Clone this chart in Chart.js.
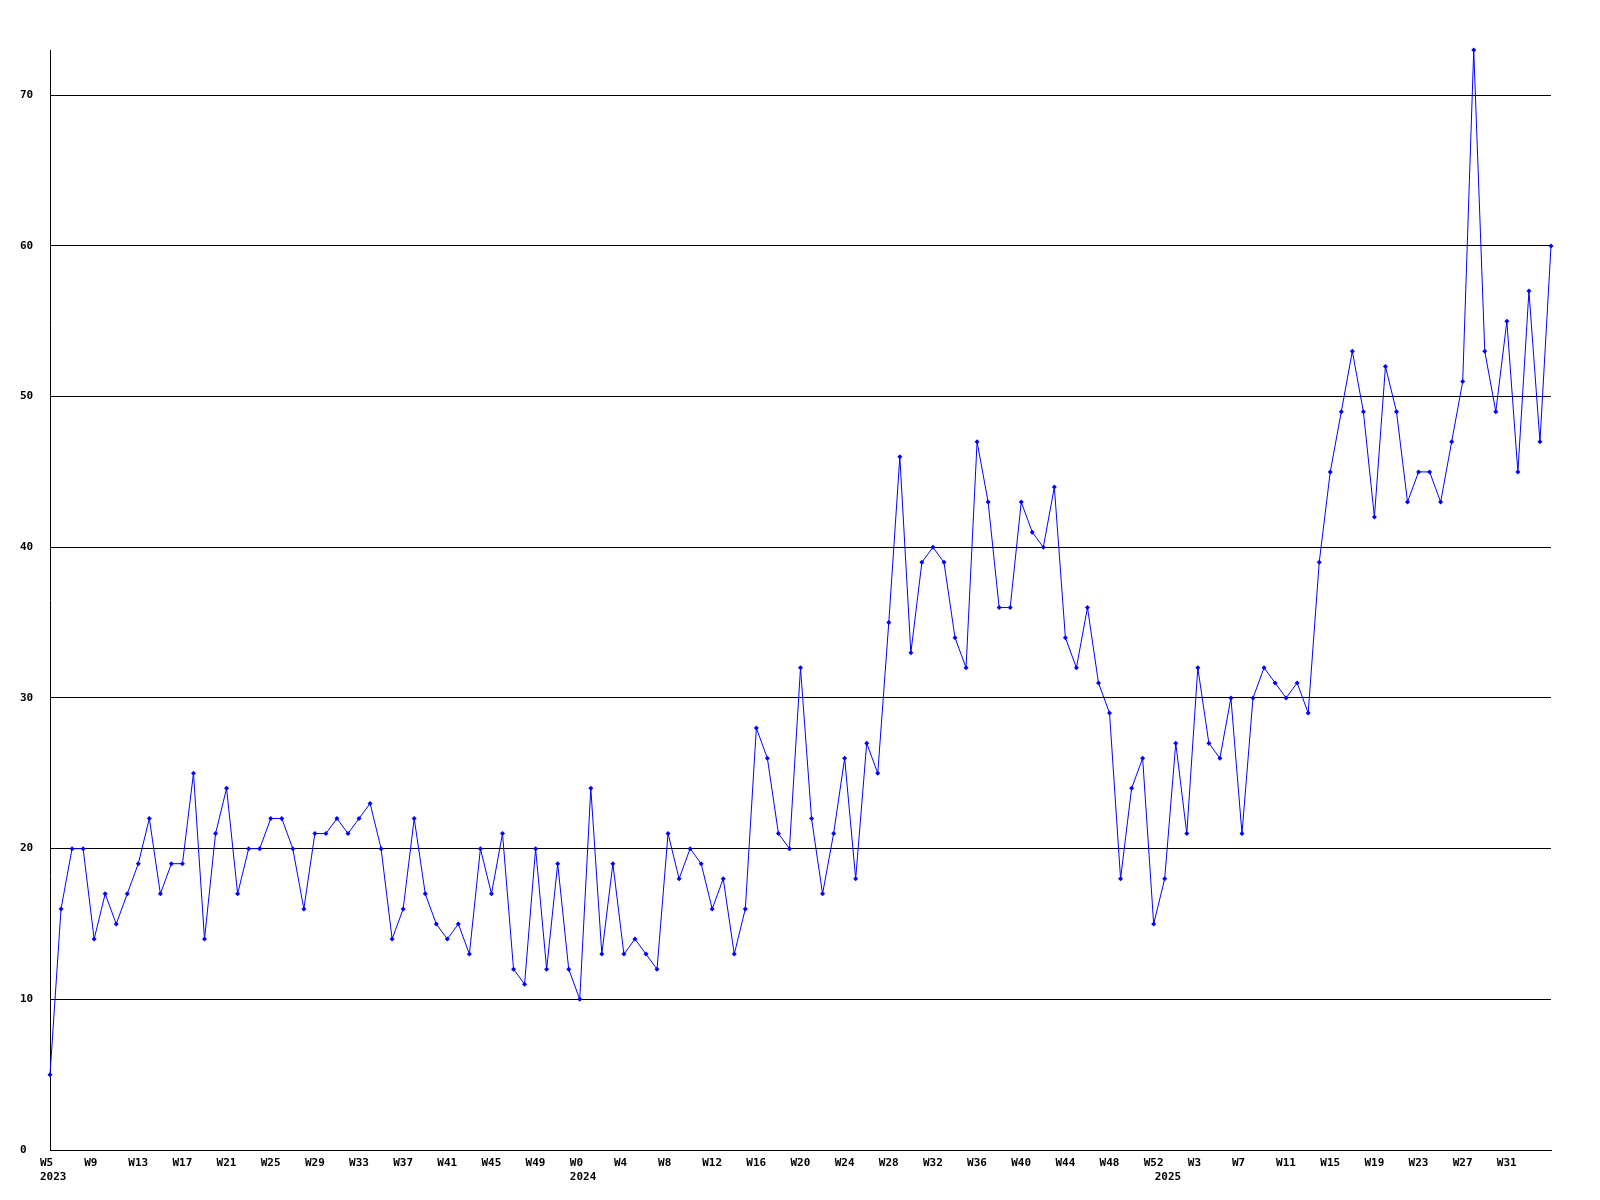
<!DOCTYPE html>
<html>
<head>
<meta charset="utf-8">
<script src="https://cdn.jsdelivr.net/npm/chart.js@4"></script>
<style>
  html, body { margin: 0; padding: 0; background: #fff; }
  #wrap { width: 1600px; height: 1200px; }
</style>
</head>
<body>
<div id="wrap"><canvas id="chart" width="1600" height="1200"></canvas></div>
<script>
// Weekly counts, 2023 W5 .. 2025 W35 (one point per week).
const YEARS = [2023, 2024, 2025];
const FIRST_WEEK = [5, 0, 0];   // first week number shown for each year
const LAST_WEEK = [52, 52, 35];

const COUNTS_2023 = [
  5, 16, 20, 20, 14, 17, 15, 17, 19, 22, 17, 19, 19, 25, 14, 21, 24, 17, 20, 20,
  22, 22, 20, 16, 21, 21, 22, 21, 22, 23, 20, 14, 16, 22, 17, 15, 14, 15, 13, 20,
  17, 21, 12, 11, 20, 12, 19, 12,
];
const COUNTS_2024 = [
  10, 24, 13, 19, 13, 14, 13, 12, 21, 18, 20, 19, 16, 18, 13, 16, 28, 26, 21, 20,
  32, 22, 17, 21, 26, 18, 27, 25, 35, 46, 33, 39, 40, 39, 34, 32, 47, 43, 36, 36,
  43, 41, 40, 44, 34, 32, 36, 31, 29, 18, 24, 26, 15,
];
const COUNTS_2025 = [
  18, 27, 21, 32, 27, 26, 30, 21, 30, 32, 31, 30, 31, 29, 39, 45, 49, 53, 49, 42,
  52, 49, 43, 45, 45, 43, 47, 51, 73, 53, 49, 55, 45, 57, 47, 60,
];

const Y_STEP = 10;
const LABEL_EVERY = 4;

// Build the category list: week label plus the year it belongs to.
const weeks = [];
const yearOf = [];
YEARS.forEach((y, i) => {
  for (let w = FIRST_WEEK[i]; w <= LAST_WEEK[i]; w++) {
    weeks.push("W" + w);
    yearOf.push(y);
  }
});
const counts = [...COUNTS_2023, ...COUNTS_2024, ...COUNTS_2025];

const FONT = { family: "'DejaVu Sans Mono', monospace", size: 11, weight: "bold", lineHeight: 1.3 };

// every 4th week gets a label (not the very last point), years go on a 2nd line
function xLabel(i) {
  const week = i % LABEL_EVERY === 0 && i < weeks.length - 1 ? weeks[i] : "";
  const firstOfYear = i === 0 || yearOf[i] !== yearOf[i - 1];
  if (firstOfYear) return [week, String(yearOf[i])];
  return week;
}

new Chart(document.getElementById("chart"), {
  type: "line",
  data: {
    labels: weeks,
    datasets: [{
      data: counts,
      borderColor: "#0000ff",
      backgroundColor: "#0000ff",
      borderWidth: 1,
      pointStyle: "rectRot",
      pointRadius: 2.5,
      pointBorderWidth: 0,
      tension: 0,
      clip: false,
    }],
  },
  options: {
    responsive: false,
    animation: false,
    layout: { padding: { top: 50, right: 49, left: 20, bottom: 12 } },
    plugins: { legend: { display: false }, tooltip: { enabled: false } },
    scales: {
      x: {
        offset: false,
        grid: { display: false, drawTicks: false },
        border: { display: true, color: "#000", width: 1 },
        ticks: {
          autoSkip: false,
          maxRotation: 0,
          minRotation: 0,
          align: "start",
          labelOffset: -10,
          padding: 6,
          color: "#000",
          font: FONT,
          callback: (v, i) => xLabel(i),
        },
        afterFit: (s) => { s.height = 38; },
      },
      y: {
        min: 0,
        max: Math.max(...counts),
        grid: { color: "#000", lineWidth: 1, drawTicks: false },
        border: { display: true, color: "#000", width: 1 },
        ticks: {
          stepSize: Y_STEP,
          crossAlign: "far",
          color: "#000",
          font: FONT,
        },
        afterBuildTicks: (s) => { s.ticks = s.ticks.filter((t) => t.value % Y_STEP === 0); },
        afterFit: (s) => { s.width = 30; },
      },
    },
  },
});
</script>
</body>
</html>
